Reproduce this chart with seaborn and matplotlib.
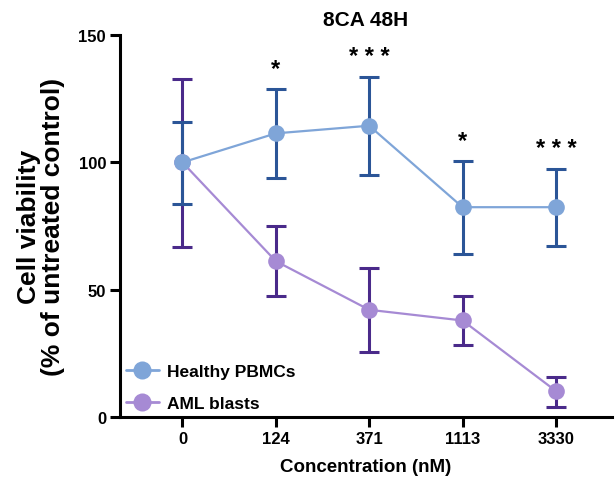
import matplotlib
matplotlib.use("Agg")
import matplotlib.pyplot as plt
import seaborn as sns
import pandas as pd
import numpy as np
from matplotlib.lines import Line2D

concentrations = ["0", "124", "371", "1113", "3330"]
healthy_mean = [100.0, 111.4, 114.4, 82.4, 82.4]
healthy_upper = [115.7, 129.0, 133.7, 100.4, 97.3]
healthy_lower = [83.6, 93.8, 95.0, 64.0, 67.3]
aml_mean = [100.0, 61.2, 42.1, 37.9, 10.2]
aml_upper = [132.9, 75.1, 58.4, 47.5, 15.8]
aml_lower = [66.8, 47.5, 25.5, 28.4, 3.9]
stars = ["", "*", "* * *", "*", "* * *"]
series_names = ["Healthy PBMCs", "AML blasts"]

sns.set_style("ticks")
plt.rcParams["font.family"] = ["Liberation Sans", "DejaVu Sans"]
plt.rcParams["font.weight"] = "bold"
for k in ["text.color", "axes.labelcolor", "xtick.color", "ytick.color", "axes.edgecolor"]:
    plt.rcParams[k] = "black"

line_colors = ["#7fa5d8", "#a68ad4"]
bar_colors = ["#2b5597", "#4a2a8a"]

pos = list(range(len(concentrations)))
df = pd.DataFrame({
    "pos": pos * 2,
    "value": healthy_mean + aml_mean,
    "group": [series_names[0]] * len(pos) + [series_names[1]] * len(pos),
})

fig = plt.figure(figsize=(6.15, 4.81), dpi=100)
ax = fig.add_axes([0.195, 0.131, 0.80, 0.794])

# error bars (under markers)
for mean, up, lo, c, z in [(aml_mean, aml_upper, aml_lower, bar_colors[1], 1),
                           (healthy_mean, healthy_upper, healthy_lower, bar_colors[0], 2)]:
    m = np.array(mean)
    yerr = np.vstack([m - np.array(lo), np.array(up) - m])
    ax.errorbar(pos, m, yerr=yerr, fmt="none", ecolor=c, elinewidth=2.2,
                capsize=7, capthick=2.2, zorder=z)

sns.lineplot(data=df, x="pos", y="value", hue="group", hue_order=series_names[::-1],
             palette={series_names[0]: line_colors[0], series_names[1]: line_colors[1]},
             marker="o", markersize=12, markeredgewidth=0, linewidth=1.6,
             ax=ax, zorder=5, legend=False)
for l in ax.lines:
    l.set_zorder(5)

# significance stars
for i, s in enumerate(stars):
    if s:
        ax.text(pos[i], healthy_upper[i] + 3.5, s, ha="center", va="bottom",
                fontsize=17, fontweight="bold", color="black")

ax.set_xlim(-0.67, 4.6)
ax.set_ylim(0, 150)
ax.set_yticks([0, 50, 100, 150])
ax.set_xticks(pos)
ax.set_xticklabels(concentrations)
ax.tick_params(axis="both", length=7, width=2.2, labelsize=12, pad=3, colors="black")
for lab in ax.get_xticklabels() + ax.get_yticklabels():
    lab.set_fontweight("bold")
for sp in ["left", "bottom"]:
    ax.spines[sp].set_linewidth(2.2)
    ax.spines[sp].set_color("black")
sns.despine(ax=ax)

ax.set_xlabel("Concentration (nM)", fontsize=13.5, fontweight="bold", labelpad=9)
ax.set_ylabel("Cell viability\n(% of untreated control)", fontsize=19,
              fontweight="bold", labelpad=10, linespacing=0.95)
ax.set_title("8CA 48H", fontsize=15, fontweight="bold", pad=7)

handles = [Line2D([0], [0], color=line_colors[i], marker="o", markersize=13,
                  markeredgewidth=0, linewidth=2.0) for i in range(2)]
ax.legend(handles, series_names, loc="lower left", bbox_to_anchor=(-0.02, -0.025),
          frameon=False, handlelength=1.9, handletextpad=0.45,
          labelspacing=0.95, prop={"weight": "bold", "size": 12.5})

fig.savefig("out.png", dpi=100)
